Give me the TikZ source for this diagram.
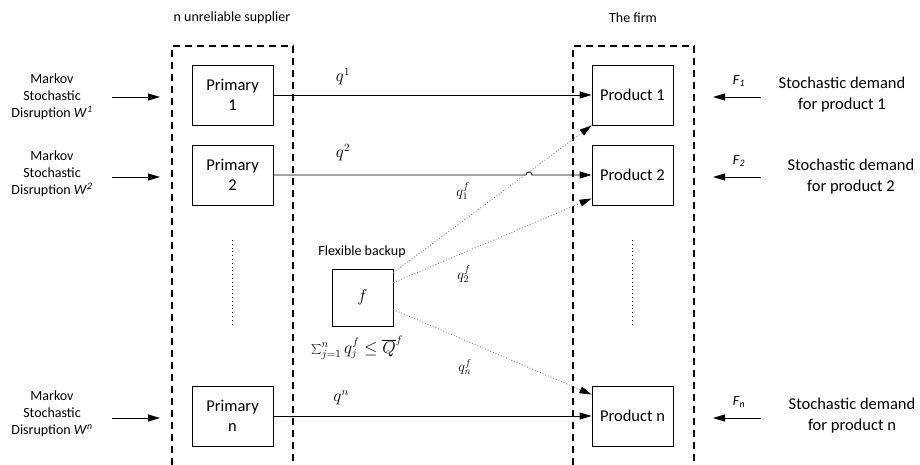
\documentclass[tikz,border=0pt]{standalone}
\usepackage{fontspec}
\setmainfont{Carlito}
\usetikzlibrary{arrows.meta,calc}

\tikzset{
  box/.style={draw, line width=0.9pt, minimum width=81pt, minimum height=60pt,
              inner sep=0pt, align=center, font=\fontsize{16.5}{20}\selectfont},
  flow/.style={line width=0.9pt, -{Triangle[length=12pt,width=7pt]}},
  flex/.style={gray, line width=0.85pt, dash pattern=on 0.85pt off 2pt,
               -{Triangle[length=12pt,width=7pt,color=black]}},
  group/.style={line width=1.1pt, dash pattern=on 7pt off 5pt},
  vdots/.style={line width=0.8pt, dash pattern=on 0.8pt off 3pt},
  disrupt/.style={align=center, font=\fontsize{14}{17}\selectfont},
  demand/.style={align=center, font=\fontsize{16.5}{21}\selectfont},
  heading/.style={font=\fontsize{14}{17}\selectfont},
  qlab/.style={font=\fontsize{16}{19}\selectfont},
  qflab/.style={font=\fontsize{14}{17}\selectfont, inner sep=0.5pt},
}

\begin{document}
\begin{tikzpicture}[x=1pt,y=-1pt]
  \useasboundingbox[fill=white] (0,0) rectangle (920,465);

  % group frames (open at the bottom)
  \draw[group] (172,465) -- (172,46) -- (293,46) -- (293,465);
  \draw[group] (573,465) -- (573,46) -- (694,46) -- (694,465);
  \node[heading] (hsup) at (232,18) {n unreliable supplier};
  \node[heading] (hfirm) at (633,18) {The firm};

  % suppliers
  \node[box] (p1) at (232.5,95) {Primary\\1};
  \node[box] (p2) at (232.5,175) {Primary\\2};
  \node[box] (pn) at (232.5,416) {Primary\\n};
  \draw[vdots] (232.5,240) -- (232.5,327);

  % products
  \node[box] (r1) at (632.5,95) {Product 1};
  \node[box] (r2) at (632.5,175) {Product 2};
  \node[box] (rn) at (632.5,416) {Product n};
  \draw[vdots] (632.5,240) -- (632.5,327);

  % flexible backup supplier
  \node[box, minimum width=61pt, minimum height=57pt] (f) at (362.5,297.5) {$f$};
  \node[font=\fontsize{14}{17}\selectfont] (flab) at (362,252) {Flexible backup};
  \node[font=\fontsize{16}{19}\selectfont, inner sep=1pt] (cap) at (357,348)
    {$\sum_{j=1}^{n} q_j^f \le \overline{Q}^f$};

  % disruption inputs
  \node[disrupt] (w1) at (52,97) {Markov\\Stochastic\\Disruption \textit{W}\textsuperscript{\textit{1}}};
  \node[disrupt] (w2) at (52,174) {Markov\\Stochastic\\Disruption \textit{W}\textsuperscript{\textit{2}}};
  \node[disrupt] (wn) at (52,414) {Markov\\Stochastic\\Disruption \textit{W}\textsuperscript{\textit{n}}};
  \coordinate (a1s) at (112,97);  \coordinate (a1e) at (160,97);
  \coordinate (a2s) at (112,177); \coordinate (a2e) at (160,177);
  \coordinate (ans) at (112,418); \coordinate (ane) at (160,418);
  \draw[flow] (a1s) -- (a1e);
  \draw[flow] (a2s) -- (a2e);
  \draw[flow] (ans) -- (ane);

  % demand inputs
  \node[demand] (d1) at (842,95) {Stochastic demand\\for product 1};
  \node[demand] (d2) at (851,177) {Stochastic demand\\for product 2};
  \node[demand] (dn) at (852,416) {Stochastic demand\\for product n};
  \coordinate (b1s) at (761,97);  \coordinate (b1e) at (713,97);
  \coordinate (b2s) at (761,177); \coordinate (b2e) at (713,177);
  \coordinate (bns) at (761,418); \coordinate (bne) at (713,418);
  \draw[flow] (b1s) -- (b1e);
  \draw[flow] (b2s) -- (b2e);
  \draw[flow] (bns) -- (bne);
  \node[qflab] (F1) at (739,81) {\textit{F}\textsubscript{\textit{1}}};
  \node[qflab] (F2) at (739,161) {\textit{F}\textsubscript{\textit{2}}};
  \node[qflab] (Fn) at (739,402) {\textit{F}\textsubscript{\textit{n}}};

  % primary flows
  \coordinate (hop) at (529,175);
  \draw[flow] (p1.east) -- (r1.west);
  \draw[flow] (p2.east) -- ($(hop)+(-3,0)$) arc[start angle=180,end angle=0,radius=3pt] -- (r2.west);
  \draw[flow] (pn.east) -- (rn.west);
  \node[qlab] (q1) at (343,77) {$q^1$};
  \node[qlab] (q2) at (343,153) {$q^2$};
  \node[qlab] (qn) at (341,398) {$q^n$};

  % flexible flows
  \draw[flex] ($(f.north east)+(0,4)$) -- (r1.south west);
  \draw[flex] ($(f.north east)+(0,14)$) -- ($(r2.south west)+(0,-7)$);
  \draw[flex] ($(f.north east)+(0,41)$) -- ($(rn.north west)+(0,9)$);
  \node[qflab] (qf1) at (463,191) {$q_1^f$};
  \node[qflab] (qf2) at (464,274) {$q_2^f$};
  \node[qflab] (qfn) at (465,367) {$q_n^f$};
\end{tikzpicture}
\end{document}
